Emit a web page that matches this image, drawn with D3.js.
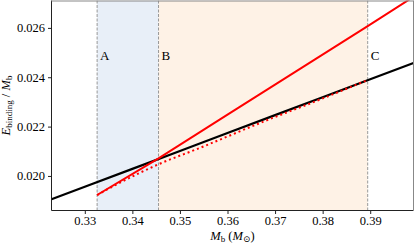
<!DOCTYPE html>
<html>
<head>
<meta charset="utf-8">
<script src="https://cdn.jsdelivr.net/npm/d3@7"></script>
<style>
  body { margin: 0; background: #fff; }
  text { font-family: "Liberation Serif", "DejaVu Serif", serif; }
</style>
</head>
<body>
<svg id="chart"></svg>
<script>
// values
var xTicks = [0.33, 0.34, 0.35, 0.36, 0.37, 0.38, 0.39];
var yTicks = [0.020, 0.022, 0.024, 0.026];

// region boundaries A, B, C
var boundaries = [
  {name: "A", x: 0.33259},
  {name: "B", x: 0.34550},
  {name: "C", x: 0.38947}
];

// black curve
var blackX = [0.3230, 0.33, 0.34, 0.35, 0.36, 0.37, 0.38, 0.39, 0.3991];
var blackY = [0.019053, 0.019561, 0.020287, 0.021013, 0.021739, 0.022465, 0.023191, 0.023917, 0.024577];

// red solid
var redX = [0.33259, 0.3455, 0.36, 0.38947, 0.3991];
var redY = [0.019228, 0.020715, 0.022482, 0.026069, 0.027260];

// red dotted
var dotX = [0.33259, 0.33667, 0.34543, 0.35421, 0.36825, 0.37947, 0.38947];
var dotY = [0.019228, 0.019654, 0.020467, 0.021138, 0.022256, 0.023098, 0.023890];

var width = 415, height = 243;
var pLeft = 51.5, pRight = 413.5, pTop = 0.5, pBottom = 210.5;

var svg = d3.select("#chart")
  .attr("width", width)
  .attr("height", height);

var x = d3.scaleLinear().domain([0.3230, 0.3991]).range([pLeft, pRight]);
var y = d3.scaleLinear().domain([0.0186, 0.02711]).range([pBottom, pTop]);

svg.append("clipPath").attr("id", "clip")
  .append("rect")
  .attr("x", pLeft).attr("y", pTop)
  .attr("width", pRight - pLeft).attr("height", pBottom - pTop);

var plot = svg.append("g").attr("clip-path", "url(#clip)");

// shaded regions
plot.append("rect")
  .attr("x", x(boundaries[0].x)).attr("y", pTop)
  .attr("width", x(boundaries[1].x) - x(boundaries[0].x))
  .attr("height", pBottom - pTop)
  .attr("fill", "#e8eff8");
plot.append("rect")
  .attr("x", x(boundaries[1].x)).attr("y", pTop)
  .attr("width", x(boundaries[2].x) - x(boundaries[1].x))
  .attr("height", pBottom - pTop)
  .attr("fill", "#fef2e6");

// dashed boundaries
plot.selectAll(".vline")
  .data(boundaries)
  .join("line")
  .attr("class", "vline")
  .attr("x1", d => x(d.x)).attr("x2", d => x(d.x))
  .attr("y1", pTop).attr("y2", pBottom)
  .attr("stroke", "#999")
  .attr("stroke-width", 1)
  .attr("stroke-dasharray", "3,1.5");

var line = d3.line()
  .x(d => x(d[0]))
  .y(d => y(d[1]));

plot.append("path")
  .datum(d3.zip(blackX, blackY))
  .attr("d", line)
  .attr("fill", "none")
  .attr("stroke", "black")
  .attr("stroke-width", 2.2);

plot.append("path")
  .datum(d3.zip(redX, redY))
  .attr("d", line)
  .attr("fill", "none")
  .attr("stroke", "red")
  .attr("stroke-width", 2);

plot.append("path")
  .datum(d3.zip(dotX, dotY))
  .attr("d", d3.line().curve(d3.curveMonotoneX).x(d => x(d[0])).y(d => y(d[1])))
  .attr("fill", "none")
  .attr("stroke", "red")
  .attr("stroke-width", 2)
  .attr("stroke-dasharray", "2,3");

// region letters
svg.selectAll(".letter")
  .data(boundaries)
  .join("text")
  .attr("class", "letter")
  .attr("x", d => x(d.x) + 3)
  .attr("y", y(0.0249) + 4.5)
  .attr("font-size", 13)
  .text(d => d.name);

// axes
var xAxis = svg.append("g")
  .attr("transform", "translate(0," + pBottom + ")")
  .call(d3.axisBottom(x).tickValues(xTicks).tickFormat(d3.format(".2f")).tickSizeOuter(0).tickSize(3.5).tickPadding(2));
var yAxis = svg.append("g")
  .attr("transform", "translate(" + pLeft + ",0)")
  .call(d3.axisLeft(y).tickValues(yTicks).tickFormat(d3.format(".3f")).tickSizeOuter(0).tickSize(3.5));

[xAxis, yAxis].forEach(function(a){
  a.select(".domain").remove();
  a.selectAll("text")
    .attr("font-family", "Liberation Serif, DejaVu Serif, serif")
    .attr("font-size", 12.5)
    .attr("fill", "black");
  a.selectAll("line").attr("stroke", "#222");
});
xAxis.selectAll("text").attr("dy", "0.75em");

// frame
svg.append("line").attr("x1", pLeft).attr("x2", pLeft).attr("y1", pTop).attr("y2", pBottom).attr("stroke", "#222");
svg.append("line").attr("x1", pLeft).attr("x2", pRight).attr("y1", pBottom).attr("y2", pBottom).attr("stroke", "#222");
svg.append("line").attr("x1", pLeft).attr("x2", pRight).attr("y1", pTop + 0.5).attr("y2", pTop + 0.5).attr("stroke", "#888");
svg.append("line").attr("x1", pRight).attr("x2", pRight).attr("y1", pTop).attr("y2", pBottom).attr("stroke", "#888");

// axis labels
var xl = svg.append("text")
  .attr("x", (pLeft + pRight) / 2)
  .attr("y", 240)
  .attr("text-anchor", "middle")
  .attr("font-size", 12.5);
xl.append("tspan").attr("font-style", "italic").text("M");
xl.append("tspan").attr("font-size", 9).attr("dy", 2).text("b");
xl.append("tspan").attr("dy", -2).text(" (");
xl.append("tspan").attr("font-style", "italic").text("M");
xl.append("tspan").attr("font-size", 9).attr("dy", 2).text("⊙");
xl.append("tspan").attr("dy", -2).text(")");

var yl = svg.append("text")
  .attr("transform", "translate(10," + ((pTop + pBottom) / 2) + ") rotate(-90)")
  .attr("text-anchor", "middle")
  .attr("font-size", 12.5);
yl.append("tspan").attr("font-style", "italic").text("E");
yl.append("tspan").attr("font-size", 9).attr("dy", 2).text("binding");
yl.append("tspan").attr("dy", -2).text(" / ");
yl.append("tspan").attr("font-style", "italic").text("M");
yl.append("tspan").attr("font-size", 9).attr("dy", 2).text("b");
</script>
</body>
</html>
